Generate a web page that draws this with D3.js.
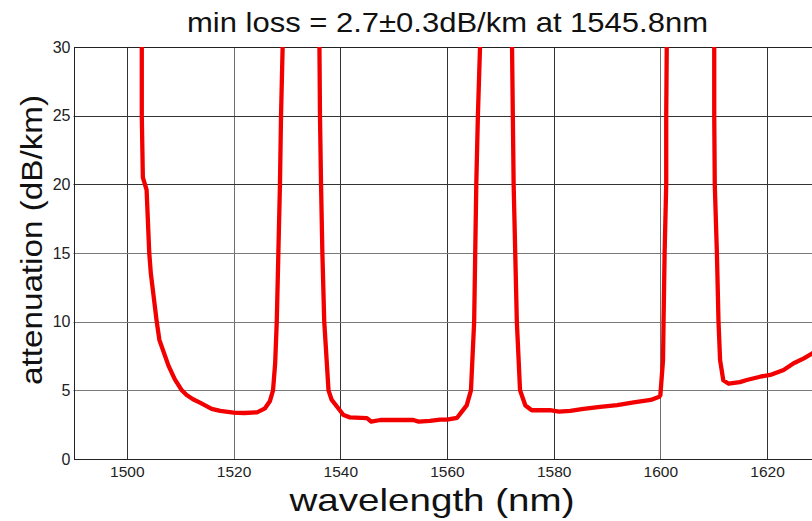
<!DOCTYPE html>
<html>
<head>
<meta charset="utf-8">
<script src="https://cdn.jsdelivr.net/npm/d3@7"></script>
<style>
  body { margin: 0; background: #fff; }
  svg { display: block; font-family: "Liberation Sans", Arial, sans-serif; }
</style>
</head>
<body>
<div id="chart"></div>
<script>
"use strict";

var title = "min loss = 2.7\u00b10.3dB/km at 1545.8nm";
var xLabel = "wavelength (nm)";
var yLabel = "attenuation (dB/km)";
var xTicks = [1500, 1520, 1540, 1560, 1580, 1600, 1620];
var yTicks = [0, 5, 10, 15, 20, 25, 30];

// measured spectrum (values above 30 run off the top of the plot)
var wavelength = [
  1502.7, 1502.8, 1502.8, 1503.0, 1503.7, 1504.2, 1504.5, 1505.6, 1506.1, 1507.8,
  1509, 1510.3, 1511.2, 1512.4, 1513.7, 1515.9, 1517.5, 1520, 1522, 1524.4,
  1525.9, 1526.8, 1527.4, 1527.8, 1528.1, 1528.4, 1528.7, 1528.9, 1529.2, 1529.5,
  1535.9, 1536.1, 1536.2, 1536.4, 1536.65, 1537.0, 1537.8, 1538.4, 1539.7, 1540.6,
  1541.8, 1545, 1545.8, 1547.5, 1553.7, 1554.7, 1556.8, 1558.7, 1560, 1561.9,
  1562.5, 1563.7, 1564.5, 1565.1, 1565.3, 1565.5, 1565.8, 1566.2, 1566.4,
  1572.1, 1572.2, 1572.35, 1572.5, 1572.8, 1573.1, 1573.7, 1574.7, 1575.9, 1579.3,
  1581, 1583.1, 1585.6, 1588.7, 1591.9, 1595, 1598.2, 1599.8, 1600.0, 1600.5,
  1600.6, 1600.8, 1601.1, 1601.1, 1601.2, 1601.3,
  1610.1, 1610.1, 1610.2, 1610.6, 1610.9, 1611.2, 1611.8, 1612.8, 1614.9, 1616.2,
  1618.7, 1620.6, 1623.1, 1625, 1626.9, 1628.5, 1630
];
var attenuation = [
  40, 30, 25, 20.5, 19.6, 15, 13.5, 10, 8.67, 6.8,
  5.8, 5.0, 4.66, 4.35, 4.1, 3.65, 3.5, 3.38, 3.35, 3.4,
  3.69, 4.2, 5.0, 6.97, 10, 15, 20, 25, 30, 40,
  40, 30, 25, 20, 15, 10, 5.0, 4.3, 3.66, 3.2,
  3.03, 2.98, 2.72, 2.84, 2.84, 2.72, 2.77, 2.86, 2.86, 3.0,
  3.3, 3.9, 5.0, 10, 15, 20, 25, 30, 40,
  40, 30, 25, 20, 15, 10, 5.0, 3.9, 3.55, 3.55,
  3.45, 3.5, 3.65, 3.8, 3.93, 4.13, 4.3, 4.54, 4.64, 7.19,
  10, 15, 20, 25, 30, 40,
  40, 25, 20, 15, 10, 7.19, 5.73, 5.48, 5.6, 5.75,
  5.99, 6.12, 6.48, 6.97, 7.33, 7.7, 8.0
];

var width = 812;
var height = 521;
var margin = {top: 47, left: 73.5, bottom: 62};
var plotW = 140 * (106.7 / 20);
var plotH = height - margin.top - margin.bottom;

var svg = d3.select('#chart').append('svg')
  .attr('width', width)
  .attr('height', height);

var x = d3.scaleLinear().domain([1490, 1630]).range([margin.left, margin.left + plotW]);
var y = d3.scaleLinear().domain([0, 30]).range([margin.top + plotH, margin.top]);

svg.append('clipPath').attr('id', 'plot')
  .append('rect')
  .attr('x', margin.left).attr('y', margin.top)
  .attr('width', plotW).attr('height', plotH);

// grid
var grid = svg.append('g').attr('stroke-width', 1);
grid.selectAll('line.v').data(xTicks).enter().append('line')
  .attr('class', 'v')
  .attr('stroke', function(d) { return (d === 1520 || d === 1600) ? '#6e6e6e' : '#333'; })
  .attr('x1', function(d) { return Math.round(x(d)) + 0.5; })
  .attr('x2', function(d) { return Math.round(x(d)) + 0.5; })
  .attr('y1', margin.top).attr('y2', margin.top + plotH);
grid.selectAll('line.h').data(yTicks.slice(1, -1)).enter().append('line')
  .attr('class', 'h')
  .attr('stroke', function(d) { return d >= 20 ? '#333' : '#7a7a7a'; })
  .attr('x1', margin.left).attr('x2', margin.left + plotW)
  .attr('y1', function(d) { return Math.round(y(d)) + 0.5; })
  .attr('y2', function(d) { return Math.round(y(d)) + 0.5; });

// frame
svg.append('rect')
  .attr('x', Math.round(margin.left) + 0.5).attr('y', margin.top + 0.5)
  .attr('width', plotW).attr('height', plotH)
  .attr('fill', 'none').attr('stroke', '#222').attr('stroke-width', 1);

// axes
var xAxis = svg.append('g')
  .attr('transform', 'translate(0,' + (margin.top + plotH) + ')')
  .call(d3.axisBottom(x).tickValues(xTicks).tickFormat(d3.format('d')).tickSize(0).tickPadding(7));
xAxis.select('.domain').remove();
xAxis.selectAll('text').attr('font-size', 15.5).attr('fill', '#222')
  .attr('font-family', '"Liberation Sans", Arial, sans-serif');

var yAxis = svg.append('g')
  .attr('transform', 'translate(' + margin.left + ',0)')
  .call(d3.axisLeft(y).tickValues(yTicks).tickFormat(d3.format('d')).tickSize(0).tickPadding(3));
yAxis.select('.domain').remove();
yAxis.selectAll('text').attr('font-size', 16).attr('fill', '#222')
  .attr('font-family', '"Liberation Sans", Arial, sans-serif');

// curve
var pts = wavelength.map(function(w, i) { return [w, attenuation[i]]; });
var line = d3.line()
  .x(function(d) { return x(d[0]); })
  .y(function(d) { return y(d[1]); });

svg.append('path')
  .datum(pts)
  .attr('clip-path', 'url(#plot)')
  .attr('d', line)
  .attr('fill', 'none')
  .attr('stroke', '#f20000')
  .attr('stroke-width', 4.3)
  .attr('stroke-linejoin', 'round');

// labels
svg.append('text')
  .attr('x', 447.5).attr('y', 32)
  .attr('text-anchor', 'middle')
  .attr('font-size', 28)
  .attr('textLength', 521)
  .attr('lengthAdjust', 'spacingAndGlyphs')
  .attr('fill', '#111')
  .text(title);

svg.append('text')
  .attr('x', 432).attr('y', 511)
  .attr('text-anchor', 'middle')
  .attr('font-size', 32)
  .attr('textLength', 285)
  .attr('lengthAdjust', 'spacingAndGlyphs')
  .attr('fill', '#111')
  .text(xLabel);

svg.append('text')
  .attr('transform', 'translate(42,240) rotate(-90)')
  .attr('text-anchor', 'middle')
  .attr('font-size', 29)
  .attr('textLength', 290)
  .attr('lengthAdjust', 'spacingAndGlyphs')
  .attr('fill', '#111')
  .text(yLabel);
</script>
</body>
</html>
